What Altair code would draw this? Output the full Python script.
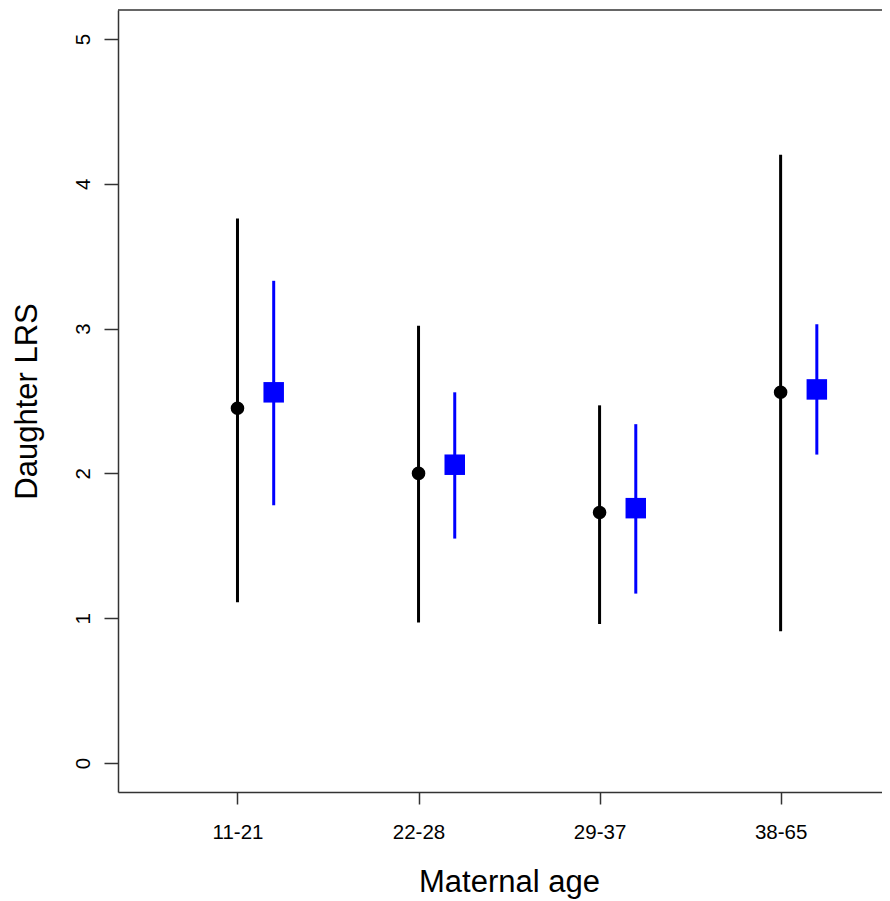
import altair as alt
import pandas as pd

categories = ["11-21", "22-28", "29-37", "38-65"]

black_mean = [2.45, 2.00, 1.73, 2.56]
black_low = [1.11, 0.97, 0.96, 0.91]
black_high = [3.76, 3.02, 2.47, 4.20]

blue_mean = [2.56, 2.06, 1.76, 2.58]
blue_low = [1.78, 1.55, 1.17, 2.13]
blue_high = [3.33, 2.56, 2.34, 3.03]

y_ticks = [0, 1, 2, 3, 4, 5]

OFFSET = 0.2
W, H = 764, 782
FONT = "Liberation Sans"
AXC = "#333333"

rows = []
for i, c in enumerate(categories):
    rows.append(dict(cat=c, pos=i + 1, mean=black_mean[i], low=black_low[i],
                     high=black_high[i], series="black"))
    rows.append(dict(cat=c, pos=i + 1 + OFFSET, mean=blue_mean[i], low=blue_low[i],
                     high=blue_high[i], series="blue"))
df = pd.DataFrame(rows)

label_expr = "[" + ",".join("'%s'" % c for c in categories) + "][datum.value - 1]"

x_scale = alt.Scale(domain=[0.34, 4.56], nice=False, zero=False)
y_scale = alt.Scale(domain=[-0.2, 5.2], nice=False, zero=False)

x_axis = alt.Axis(values=[1, 2, 3, 4], labelExpr=label_expr, grid=False,
                  tickSize=12, tickColor=AXC, domainColor=AXC, domainWidth=1.5,
                  tickWidth=1.5, labelFont=FONT, labelFontSize=20.5,
                  labelColor="black", labelPadding=18, labelBaseline="top",
                  labelAlign="center", title="Maternal age", titleFont=FONT,
                  titleFontSize=31, titleFontWeight="normal", titleColor="black",
                  titleX=391, titleY=99.7, titleBaseline="alphabetic",
                  titleAlign="center", labelFlush=False)

y_axis = alt.Axis(values=y_ticks, format="d", grid=False, tickSize=14,
                  tickColor=AXC, domainColor=AXC, domainWidth=1.5, tickWidth=1.5,
                  labelFont=FONT, labelFontSize=20.5, labelColor="black",
                  labelAngle=270, labelAlign="center", labelBaseline="bottom",
                  labelPadding=11, title="Daughter LRS", titleFont=FONT,
                  titleFontSize=31, titleFontWeight="normal", titleColor="black",
                  titleAngle=270, titleX=-82, titleY=391,
                  titleBaseline="alphabetic", titleAlign="center",
                  labelFlush=False)

base = alt.Chart(df)

rules = base.mark_rule(strokeWidth=3).encode(
    x=alt.X("pos:Q", scale=x_scale, axis=x_axis),
    y=alt.Y("low:Q", scale=y_scale, axis=y_axis),
    y2="high:Q",
    color=alt.Color("series:N", scale=alt.Scale(domain=["black", "blue"],
                                                range=["#000000", "#0000FF"]),
                    legend=None),
)

black_pts = base.transform_filter(alt.datum.series == "black").mark_point(
    shape="circle", filled=True, size=185, color="#000000", opacity=1
).encode(x="pos:Q", y="mean:Q")

blue_pts = base.transform_filter(alt.datum.series == "blue").mark_point(
    shape="square", filled=True, size=420, color="#0000FF", opacity=1
).encode(x="pos:Q", y="mean:Q")

top_border = alt.Chart(alt.Data(values=[{"a": 1}])).mark_rule(
    color=AXC, strokeWidth=1.5
).encode(x=alt.value(0), x2=alt.value(W), y=alt.value(0))

chart = alt.layer(rules, black_pts, blue_pts, top_border).properties(
    width=W, height=H,
    autosize=alt.AutoSizeParams(type="none"),
    padding={"left": 110, "top": 2, "right": 0, "bottom": 112},
    background="white",
).configure_view(stroke=None)

chart.save("out.html", embed_options={"renderer": "svg", "actions": False})
